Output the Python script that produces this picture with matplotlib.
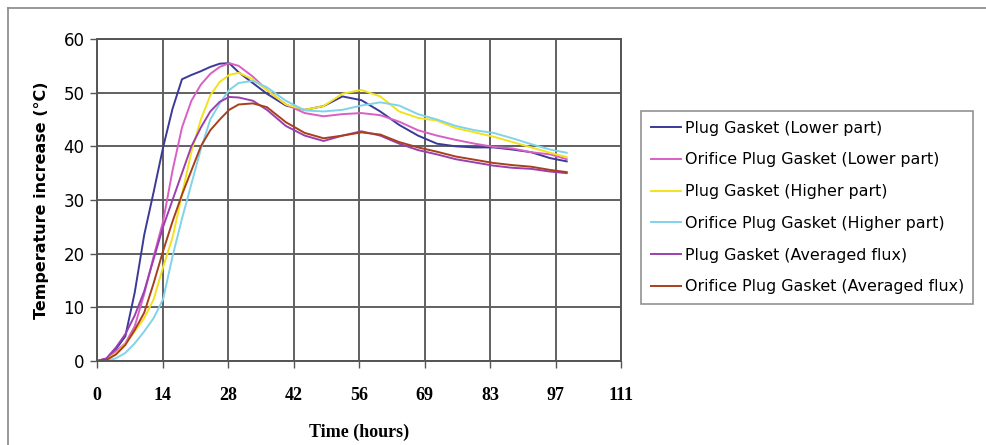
import numpy as np
import matplotlib.pyplot as plt
from matplotlib.lines import Line2D

# Time (hours) common to all series
hours = [0, 2, 4, 6, 8, 10, 12, 14, 16, 18, 20, 22, 24, 26, 28, 30, 33, 36, 40,
         44, 48, 52, 56, 60, 64, 68, 72, 76, 80, 84, 88, 92, 96, 99.5]

plug_lower = [0, 0.4, 2.2, 4.6, 12.8, 23.5, 31.5, 39.8, 47, 52.5, 53.3, 54, 54.8, 55.4, 55.5,
              53.8, 51.8, 49.8, 47.6, 46.8, 47.5, 49.3, 48.6, 46.5, 44, 42, 40.5, 40, 39.8,
              39.8, 39.4, 38.9, 37.8, 37.2]
orifice_lower = [0, 0.4, 1.8, 3.3, 6.5, 12.5, 19.5, 26, 35.5, 43.5, 48.5, 51.5, 53.5, 54.8, 55.5,
                 55, 53, 50.5, 47.8, 46.2, 45.6, 46, 46.2, 45.8, 44.6, 43, 42, 41.2, 40.5,
                 39.9, 39.6, 38.9, 38.5, 37.6]
plug_higher = [0, 0.3, 1.4, 3.2, 5.5, 8, 11.5, 17.5, 23, 31, 39, 45, 49.5, 52, 53.3,
               53.7, 52.5, 50.5, 47.8, 46.8, 47.5, 49.8, 50.5, 49.3, 46.5, 45.3, 44.8, 43.4, 42.6,
               41.8, 40.8, 39.8, 38.8, 38]
orifice_higher = [0, 0, 0.5, 1.5, 3.3, 5.5, 8, 11.5, 19.5, 26.5, 33, 39.5, 45, 48, 50.5,
                  51.8, 52.2, 51, 48.5, 46.7, 46.5, 46.8, 47.6, 48.2, 47.6, 46, 45, 43.8, 43,
                  42.5, 41.5, 40.4, 39.4, 38.8]
plug_avg = [0, 0.5, 2.5, 5, 8.5, 13, 19, 25, 30, 35, 40, 43.5, 46.5, 48.3, 49.2,
            49.1, 48.5, 46.8, 43.8, 42, 41, 42, 42.8, 42, 40.5, 39.3, 38.5, 37.6, 37,
            36.4, 36, 35.8, 35.3, 35]
orifice_avg = [0, 0.2, 1.2, 3, 5.8, 9, 14.5, 20.5, 26, 31, 35.5, 40, 43, 45, 46.8,
               47.8, 48, 47.3, 44.5, 42.5, 41.5, 42, 42.6, 42.2, 40.8, 39.8, 39, 38.1, 37.5,
               36.9, 36.5, 36.2, 35.6, 35.2]

labels = ['Plug Gasket (Lower part)', 'Orifice Plug Gasket (Lower part)',
          'Plug Gasket (Higher part)', 'Orifice Plug Gasket (Higher part)',
          'Plug Gasket (Averaged flux)', 'Orifice Plug Gasket (Averaged flux)']
colors = ['#3a3a98', '#d95fc4', '#f2e21c', '#7fd3ea', '#9b3fb0', '#a8401e']
series = [plug_lower, orifice_lower, plug_higher, orifice_higher, plug_avg, orifice_avg]

xtick_labels = ['0', '14', '28', '42', '56', '69', '83', '97', '111']

fig = plt.figure(figsize=(9.86, 4.45), dpi=100)
ax = fig.add_axes([97 / 986, 1 - 361 / 445, (621 - 97) / 986, (361 - 39) / 445])

for vals, c, lab in zip(series, colors, labels):
    ax.plot(hours, vals, color=c, lw=1.4, label=lab)

xt = np.arange(9) * 111 / 8
ax.set_xlim(0, 111)
ax.set_ylim(0, 60)
ax.set_xticks(xt)
ax.set_xticklabels(xtick_labels, fontfamily='Liberation Serif', fontweight='bold', fontsize=13)
ax.set_yticks(np.arange(0, 61, 10))
ax.tick_params(axis='y', labelsize=12, length=5, width=1, color='#555555', pad=4)
ax.tick_params(axis='x', length=5, width=1, color='#555555', pad=14)
ax.grid(True, color='#606060', lw=1.4)
ax.set_axisbelow(True)
for s in ax.spines.values():
    s.set_color('#555555')
    s.set_linewidth(1.4)

ax.set_ylabel('Temperature increase (°C)', fontsize=11.5, fontweight='bold', labelpad=10)
ax.set_xlabel('Time (hours)', fontfamily='Liberation Serif', fontweight='bold', fontsize=13,
              labelpad=14)

leg = ax.legend(loc='upper left', bbox_to_anchor=(641 / 986, 1 - 111 / 445),
                bbox_transform=fig.transFigure, borderaxespad=0, fontsize=11.4, frameon=True,
                fancybox=False, edgecolor='#777777', handlelength=1.9, handletextpad=0.25,
                labelspacing=1.06, borderpad=0.6)
leg.get_frame().set_linewidth(1.2)

# Frame round the picture (left and top edges)
fig.add_artist(Line2D([8 / 986, 8 / 986], [0, 1 - 8 / 445], color='#888888', lw=1.2))
fig.add_artist(Line2D([8 / 986, 1], [1 - 8 / 445, 1 - 8 / 445], color='#888888', lw=1.2))

fig.savefig('out.png', dpi=100)
